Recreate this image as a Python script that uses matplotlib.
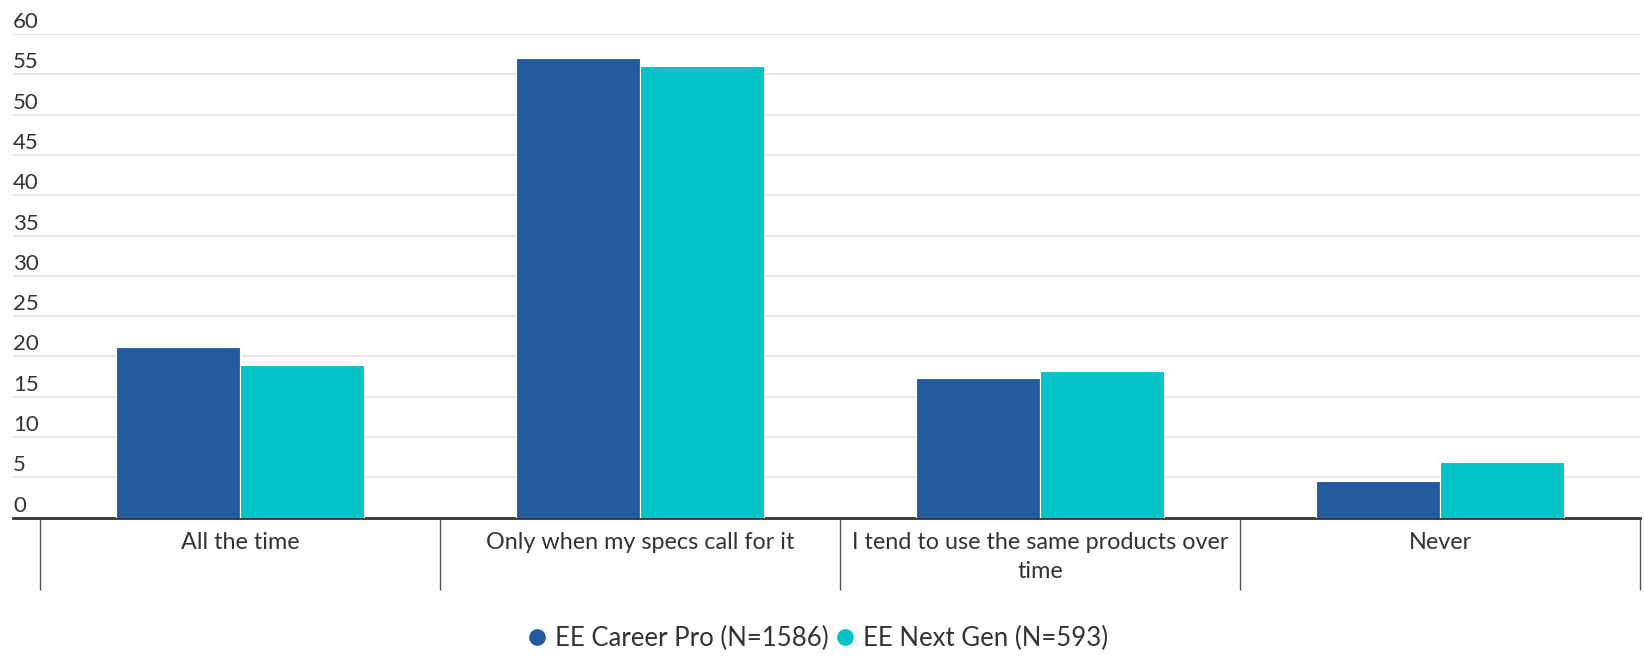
import matplotlib as mpl
import matplotlib.pyplot as plt
import matplotlib.transforms as mtransforms
from matplotlib.lines import Line2D
import numpy as np

categories = ['All the time',
              'Only when my specs call for it',
              'I tend to use the same products over\ntime',
              'Never']
career_pro = [21.2, 57.0, 17.3, 4.5]
next_gen = [18.9, 56.0, 18.2, 6.9]
series_names = ['EE Career Pro (N=1586)', 'EE Next Gen (N=593)']
y_ticks = list(range(0, 65, 5))

blue = '#245a9e'
teal = '#00c2c7'
text_col = '#333333'

mpl.rcParams['font.family'] = ['Lato', 'DejaVu Sans']

fig = plt.figure(figsize=(16.44, 6.57), dpi=100)
ax = fig.add_axes([13 / 1644, 1 - 517.7 / 657, (1640 - 13) / 1644, (517.7 - 34) / 657])

x = np.arange(len(categories))
w = 0.31
ax.bar(x - 0.155, career_pro, w, color=blue, edgecolor='white', linewidth=0.8, zorder=3)
ax.bar(x + 0.155, next_gen, w, color=teal, edgecolor='white', linewidth=0.8, zorder=3)

ax.set_xlim(-0.5 - 27 / 400, 3.5)
ax.set_ylim(0, 60)

# grid
ax.set_yticks(y_ticks)
ax.yaxis.grid(True, color='#e6e6e6', linewidth=1.4)
ax.set_axisbelow(True)
ax.tick_params(axis='y', length=0, labelleft=False)

# y labels sit above the grid lines, inside the plot
trans = mtransforms.blended_transform_factory(ax.transAxes, ax.transData)
offset = mtransforms.ScaledTranslation(0, 6 / 100, fig.dpi_scale_trans)
for v in y_ticks:
    ax.text(0, v, str(v), transform=trans + offset, ha='left', va='baseline',
            fontsize=16, color=text_col)

# categories with separators
ax.set_xticks(x)
ax.set_xticklabels(categories, fontsize=16.8, color=text_col, linespacing=1.5)
ax.set_xticks(np.arange(-0.5, 4), minor=True)
ax.tick_params(axis='x', which='major', length=0, pad=10)
ax.tick_params(axis='x', which='minor', length=52, width=1, color='#555555')

for s in ['top', 'right', 'left']:
    ax.spines[s].set_visible(False)
ax.spines['bottom'].set_color('#333333')
ax.spines['bottom'].set_linewidth(2)

handles = [Line2D([], [], marker='o', linestyle='', markersize=11, color=c)
           for c in [blue, teal]]
fig.legend(handles, series_names, loc='center', bbox_to_anchor=(0.4975, 1 - 638 / 657),
           ncol=2, frameon=False, fontsize=18.5, handlelength=0.7, handletextpad=0.35,
           columnspacing=0.3, labelcolor=text_col)

fig.savefig('out.png', dpi=100)
